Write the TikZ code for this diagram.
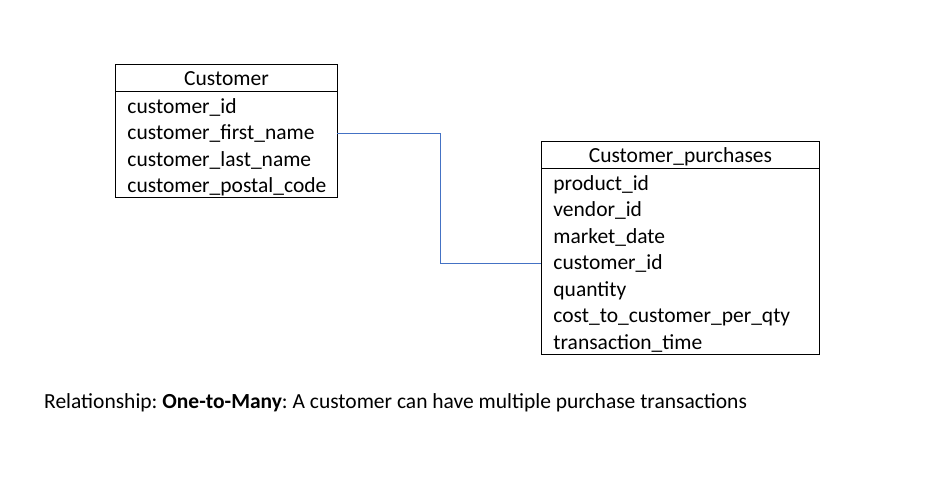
\documentclass[tikz,border=0pt]{standalone}
\usepackage{fontspec}
\setmainfont{Carlito}
\usetikzlibrary{positioning, fit}
\definecolor{linkBlue}{RGB}{68,114,196}
\frenchspacing
\tikzset{
    tablehead/.style={
        rectangle,
        draw=black,
        line width=0.9pt,
        align=center,
        minimum height=27pt,
        inner sep=0pt,
        text height=17pt,
        text depth=2pt,
        font=\fontsize{21.5}{25}\selectfont
    },
    fieldrow/.style={
        rectangle,
        align=left,
        minimum height=26.5pt,
        inner xsep=12pt,
        inner ysep=0pt,
        outer sep=0pt,
        text height=18pt,
        text depth=2pt,
        font=\fontsize{21.5}{25}\selectfont
    },
    tablebox/.style={rectangle, draw=black, line width=0.9pt, inner sep=0pt},
    linkline/.style={draw=linkBlue, line width=0.9pt}
}
\begin{document}
\begin{tikzpicture}[x=1pt, y=-1pt, node distance=0pt]
    \useasboundingbox (0,0) rectangle (940,502);

    % Customer table
    \node[tablehead, minimum width=222pt, anchor=north west] (cust) at (115,64) {Customer};
    \node[fieldrow, text width=198pt, below=of cust] (cid) {customer\_id};
    \node[fieldrow, text width=198pt, below=of cid] (cfirst) {customer\_first\_name};
    \node[fieldrow, text width=198pt, below=of cfirst] (clast) {customer\_last\_name};
    \node[fieldrow, text width=198pt, below=of clast] (cpostal) {customer\_postal\_code};
    \node[tablebox, fit=(cust) (cpostal)] (custbox) {};

    % Customer_purchases table
    \node[tablehead, minimum width=278pt, anchor=north west] (purch) at (541,141) {Customer\_purchases};
    \node[fieldrow, text width=254pt, below=of purch] (pprod) {product\_id};
    \node[fieldrow, text width=254pt, below=of pprod] (pvendor) {vendor\_id};
    \node[fieldrow, text width=254pt, below=of pvendor] (pdate) {market\_date};
    \node[fieldrow, text width=254pt, below=of pdate] (pcid) {customer\_id};
    \node[fieldrow, text width=254pt, below=of pcid] (pqty) {quantity};
    \node[fieldrow, text width=254pt, below=of pqty] (pcost) {cost\_to\_customer\_per\_qty};
    \node[fieldrow, text width=254pt, below=of pcost] (ptime) {transaction\_time};
    \node[tablebox, fit=(purch) (ptime)] (purchbox) {};

    % relationship line
    \coordinate (bend) at (440,0);
    \draw[linkline] ([yshift=-2pt]cfirst.east) -- ([yshift=-2pt]cfirst.east -| bend) |- ([yshift=-2pt]pcid.west);

    \node[anchor=west, inner sep=0pt, font=\fontsize{21.5}{25}\selectfont] (note) at (44,403)
        {Relationship: \textbf{One-to-Many}: A customer can have multiple purchase transactions};
\end{tikzpicture}
\end{document}
